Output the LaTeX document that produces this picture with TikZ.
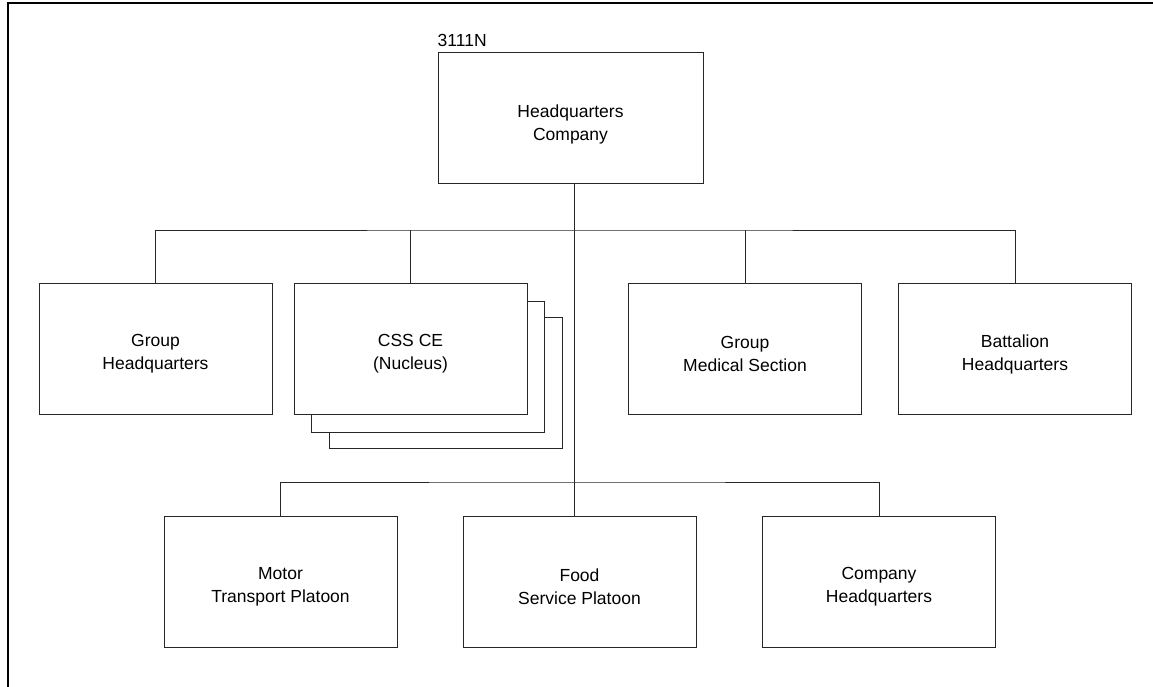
\documentclass[tikz,border=0pt]{standalone}
\usepackage{fontspec}
\setmainfont{Liberation Sans}
\usetikzlibrary{calc}

\tikzset{
  unit/.style={draw=black!85, fill=white, line width=1pt, minimum width=233pt,
    minimum height=131pt, inner sep=0pt},
  txt/.style={align=center, inner sep=0pt, yshift=-5.5pt,
    font=\fontsize{17.5}{23}\selectfont},
  link/.style={draw=black!85, line width=1pt}
}

\begin{document}
\begin{tikzpicture}[x=1pt, y=-1pt]
  \useasboundingbox (0,0) rectangle (1153,687);

  % ---- page frame ----
  \draw[line width=2.2pt] (8,687) -- (8,3) -- (1153,3);

  % ---- Headquarters Company ----
  \node[unit, minimum width=265pt] (hq) at (570.5,118.5) {};
  \node[txt] at (hq) {Headquarters\\Company};
  \node[anchor=base west, inner sep=0pt, font=\fontsize{17.5}{23}\selectfont]
    (uic) at ([yshift=6pt]hq.north west) {3111N};

  % ---- second row ----
  \node[unit] (grp) at (155.5,348.5) {};
  \node[txt] at (grp) {Group\\Headquarters};
  % CSS CE, stacked copies behind
  \node[unit] (css3) at (446,382.5) {};
  \node[unit] (css2) at (428,366.5) {};
  \node[unit] (css) at (410.5,348.5) {};
  \node[txt] at (css) {CSS CE\\(Nucleus)};
  \node[unit] (med) at (745,348.5) {};
  \node[txt] at (med) {Group\\Medical Section};
  \node[unit] (bat) at (1015,348.5) {};
  \node[txt] at (bat) {Battalion\\Headquarters};

  % ---- third row ----
  \node[unit] (mot) at (280.5,581.5) {};
  \node[txt] at (mot) {Motor\\Transport Platoon};
  \node[unit] (food) at (579.5,581.5) {};
  \node[txt] at (food) {Food\\Service Platoon};
  \node[unit] (coy) at (879,581.5) {};
  \node[txt] at (coy) {Company\\Headquarters};

  % bus points
  \coordinate (trunk) at (574.5,0);
  \coordinate (busA) at (574.5,230);
  \coordinate (busB) at (574.5,482);

  % trunk down from HQ Company
  \draw[link] (hq.south -| trunk) -- (food.north -| trunk);

  % upper bus
  \draw[link] (grp.north) |- (busA) -| (bat.north);
  \draw[link] (css.north) -- (css.north |- busA);
  \draw[link] (med.north) -- (med.north |- busA);

  % lower bus
  \draw[link] (mot.north) |- (busB) -| (coy.north);

\end{tikzpicture}
\end{document}
